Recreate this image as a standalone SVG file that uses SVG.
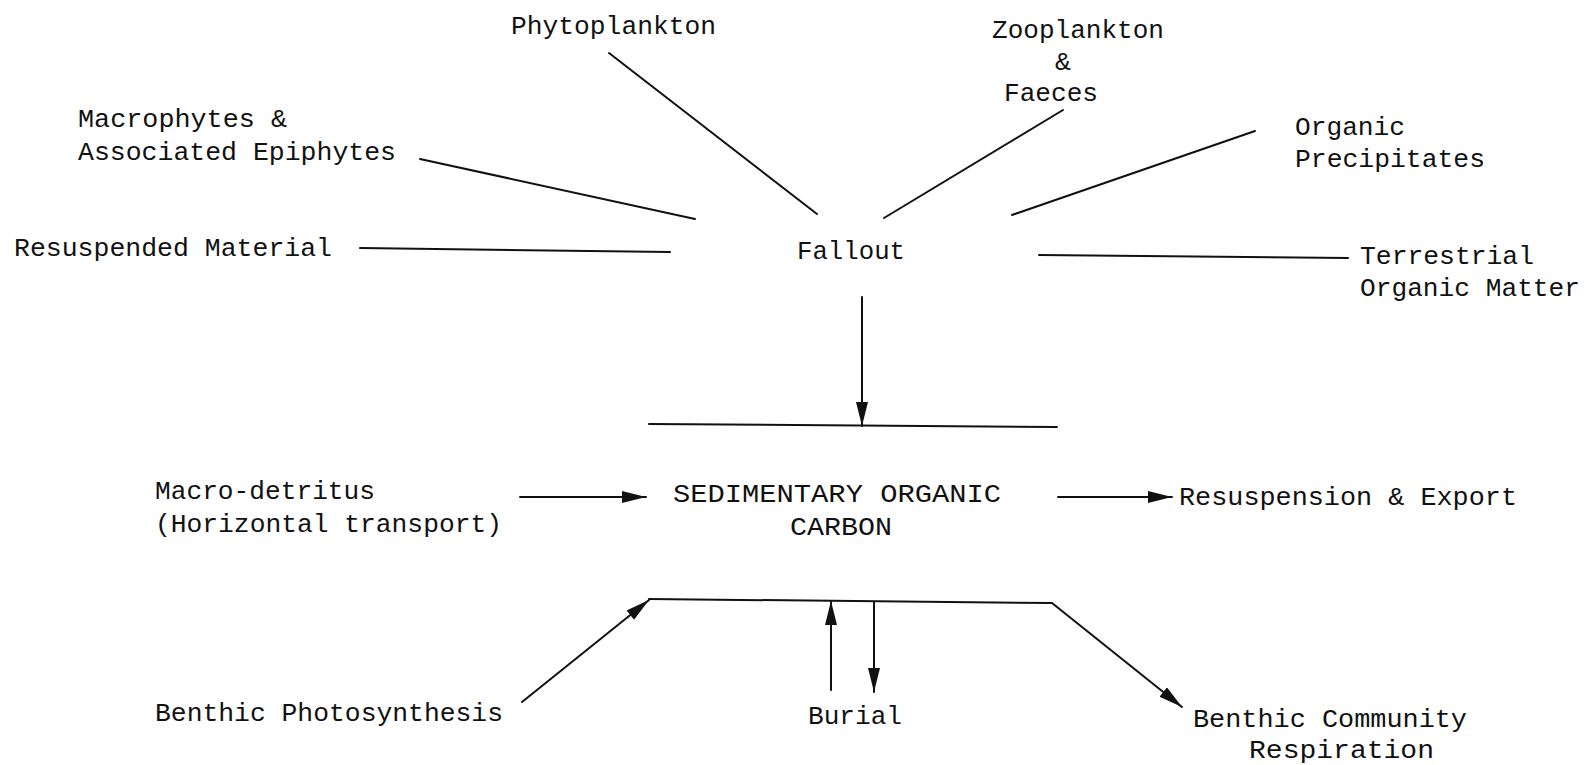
<svg xmlns="http://www.w3.org/2000/svg" width="1590" height="765" viewBox="0 0 1590 765">
  <style>
    .lbl { font-family: "Liberation Mono", "DejaVu Sans Mono", monospace; font-size: 26.5px; fill: #111; }
    .mid { text-anchor: middle; }
    .ln { stroke: #111; stroke-width: 2; fill: none; stroke-linecap: round; }
    .arr { marker-end: url(#head); }
  </style>
  <defs>
    <marker id="head" markerUnits="userSpaceOnUse" markerWidth="26" markerHeight="14" refX="24" refY="6" orient="auto">
      <path d="M0,0 L24,6 L0,12 Z" fill="#111"/>
    </marker>
  </defs>
  <rect width="1590" height="765" fill="#fff"/>

  <!-- sources feeding the water-column fallout -->
  <g id="phytoplankton"><text class="lbl" x="511" y="34" textLength="205" lengthAdjust="spacingAndGlyphs">Phytoplankton</text></g>
  <g id="zooplankton">
    <text class="lbl" x="992" y="38" textLength="172" lengthAdjust="spacingAndGlyphs">Zooplankton</text>
    <text class="lbl mid" x="1063" y="70">&amp;</text>
    <text class="lbl" x="1004" y="101" textLength="94" lengthAdjust="spacingAndGlyphs">Faeces</text>
  </g>
  <g id="macrophytes">
    <text class="lbl" x="78" y="127" textLength="209" lengthAdjust="spacingAndGlyphs">Macrophytes &amp;</text>
    <text class="lbl" x="78" y="160" textLength="318" lengthAdjust="spacingAndGlyphs">Associated Epiphytes</text>
  </g>
  <g id="organic-precipitates">
    <text class="lbl" x="1295" y="135" textLength="110" lengthAdjust="spacingAndGlyphs">Organic</text>
    <text class="lbl" x="1295" y="167" textLength="190" lengthAdjust="spacingAndGlyphs">Precipitates</text>
  </g>
  <g id="resuspended-material"><text class="lbl" x="14" y="256" textLength="318" lengthAdjust="spacingAndGlyphs">Resuspended Material</text></g>
  <g id="fallout"><text class="lbl" x="797" y="259" textLength="108" lengthAdjust="spacingAndGlyphs">Fallout</text></g>
  <g id="terrestrial">
    <text class="lbl" x="1360" y="264" textLength="174" lengthAdjust="spacingAndGlyphs">Terrestrial</text>
    <text class="lbl" x="1360" y="296" textLength="220" lengthAdjust="spacingAndGlyphs">Organic Matter</text>
  </g>

  <!-- sediment pool and its exchanges -->
  <g id="sediment-carbon">
    <text class="lbl mid" x="837" y="502" textLength="328" lengthAdjust="spacingAndGlyphs">SEDIMENTARY ORGANIC</text>
    <text class="lbl mid" x="841" y="535" textLength="102" lengthAdjust="spacingAndGlyphs">CARBON</text>
  </g>
  <g id="macro-detritus">
    <text class="lbl" x="155" y="499" textLength="220" lengthAdjust="spacingAndGlyphs">Macro-detritus</text>
    <text class="lbl" x="155" y="532" textLength="347" lengthAdjust="spacingAndGlyphs">(Horizontal transport)</text>
  </g>
  <g id="resuspension-export"><text class="lbl" x="1179" y="505" textLength="338" lengthAdjust="spacingAndGlyphs">Resuspension &amp; Export</text></g>
  <g id="benthic-photosynthesis"><text class="lbl" x="155" y="721" textLength="348" lengthAdjust="spacingAndGlyphs">Benthic Photosynthesis</text></g>
  <g id="burial"><text class="lbl" x="808" y="724" textLength="94" lengthAdjust="spacingAndGlyphs">Burial</text></g>
  <g id="benthic-respiration">
    <text class="lbl" x="1193" y="727" textLength="274" lengthAdjust="spacingAndGlyphs">Benthic Community</text>
    <text class="lbl" x="1249" y="758" textLength="185" lengthAdjust="spacingAndGlyphs">Respiration</text>
  </g>

  <g id="connectors">
    <line class="ln" x1="609" y1="53" x2="817" y2="214"/>
    <line class="ln" x1="420" y1="159" x2="695" y2="219"/>
    <line class="ln" x1="360" y1="248" x2="670" y2="252"/>
    <line class="ln" x1="1063" y1="110" x2="884" y2="218"/>
    <line class="ln" x1="1255" y1="131" x2="1012" y2="215"/>
    <line class="ln" x1="1039" y1="255" x2="1348" y2="258"/>
    <line class="ln arr" x1="862" y1="297" x2="862" y2="426"/>
    <line class="ln" x1="649" y1="424" x2="1057" y2="427"/>
    <line class="ln arr" x1="520" y1="497" x2="646" y2="497"/>
    <line class="ln arr" x1="1058" y1="497" x2="1172" y2="497"/>
    <line class="ln" x1="649" y1="599" x2="1052" y2="603"/>
    <line class="ln arr" x1="522" y1="702" x2="649" y2="600"/>
    <line class="ln arr" x1="831" y1="690" x2="831" y2="601"/>
    <line class="ln arr" x1="874" y1="602" x2="874" y2="692"/>
    <line class="ln arr" x1="1052" y1="603" x2="1182" y2="707"/>
  </g>
</svg>
